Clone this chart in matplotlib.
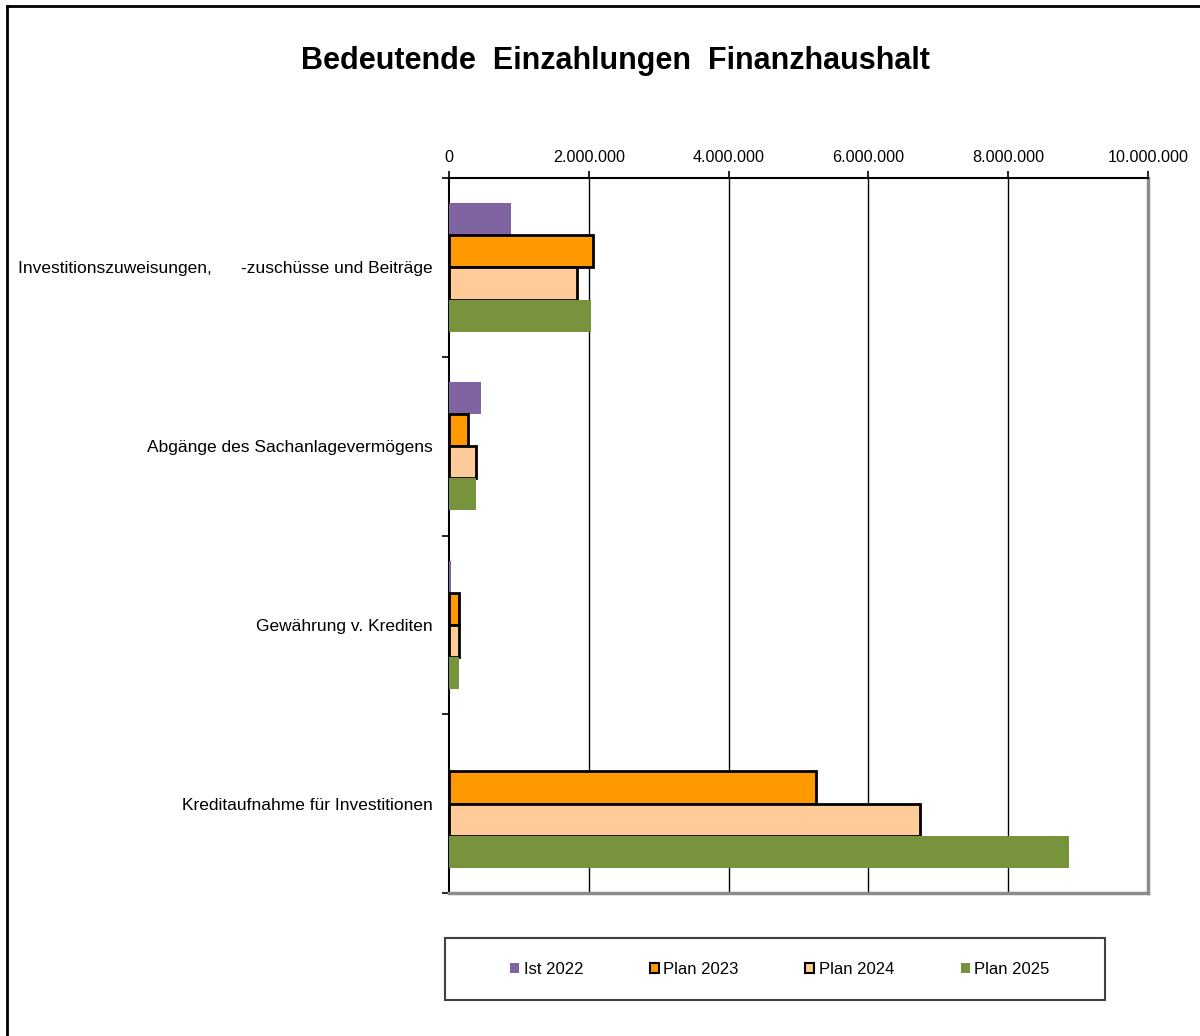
import matplotlib
matplotlib.use("Agg")
import matplotlib.pyplot as plt
import numpy as np
from matplotlib.lines import Line2D
from matplotlib.patches import Rectangle, Patch
from matplotlib.ticker import FuncFormatter

plt.rcParams["font.family"] = ["Liberation Sans", "DejaVu Sans"]

categories = [
    "Investitionszuweisungen,      -zuschüsse und Beiträge",
    "Abgänge des Sachanlagevermögens",
    "Gewährung v. Krediten",
    "Kreditaufnahme für Investitionen",
]
series_names = ["Ist 2022", "Plan 2023", "Plan 2024", "Plan 2025"]
ist_2022 = [890000, 460000, 30000, 0]
plan_2023 = [2060000, 270000, 140000, 5250000]
plan_2024 = [1830000, 390000, 140000, 6740000]
plan_2025 = [2030000, 380000, 140000, 8870000]
x_ticks = [0, 2000000, 4000000, 6000000, 8000000, 10000000]

colors = ["#8064A2", "#FF9900", "#FFCC99", "#77933C"]
edges = [None, "black", "black", None]

W, H = 1200, 1036
fig = plt.figure(figsize=(W / 100, H / 100), dpi=100)
ax = fig.add_axes([449 / W, 1 - 893 / H, (1148 - 449) / W, (893 - 178) / H])

y = np.arange(len(categories))
bar_h = 0.18
offsets = [-0.27, -0.09, 0.09, 0.27]
for vals, name, col, ec, off in zip([ist_2022, plan_2023, plan_2024, plan_2025],
                                     series_names, colors, edges, offsets):
    ax.barh(y + off, vals, height=bar_h, color=col,
            edgecolor=ec if ec else col, linewidth=2 if ec else 0, zorder=3)

ax.set_xlim(0, 10000000)
ax.set_ylim(3.5, -0.5)
ax.xaxis.tick_top()
ax.set_xticks(x_ticks)
ax.xaxis.set_major_formatter(FuncFormatter(lambda v, p: f"{int(v):,}".replace(",", ".")))
ax.tick_params(axis="x", which="major", direction="out", length=5, width=1.2,
               labelsize=11.6, pad=4, colors="black")
ax.set_yticks(np.arange(-0.5, 4, 1))
ax.set_yticklabels([])
ax.set_yticks(y, minor=True)
ax.set_yticklabels(categories, minor=True, fontsize=12.5)
ax.tick_params(axis="y", which="minor", length=0, pad=12)
ax.tick_params(axis="y", which="major", direction="out", length=5, width=1.2)

for v in x_ticks[1:-1]:
    ax.axvline(v, color="black", lw=1, zorder=1)

ax.spines["left"].set_color("black")
ax.spines["left"].set_linewidth(1.5)
ax.spines["top"].set_color("black")
ax.spines["top"].set_linewidth(1.5)
ax.spines["right"].set_color("#8c8c8c")
ax.spines["right"].set_linewidth(2.5)
ax.spines["bottom"].set_color("#8c8c8c")
ax.spines["bottom"].set_linewidth(2.5)

fig.text(615 / W, 1 - 61 / H, "Bedeutende  Einzahlungen  Finanzhaushalt",
         ha="center", va="center", fontsize=22, fontweight="bold")

# legend box
lx0, ly0, lx1, ly1 = 445, 938, 1105, 1000
fig.add_artist(Rectangle((lx0 / W, 1 - ly1 / H), (lx1 - lx0) / W, (ly1 - ly0) / H,
                         transform=fig.transFigure, fill=False,
                         edgecolor="#404040", lw=1.5))
handles = [Patch(facecolor=c, edgecolor=(e if e else c), linewidth=1.5 if e else 0)
           for c, e in zip(colors, edges)]
fig.legend(handles, series_names, loc="center",
           bbox_to_anchor=((lx0 + lx1) / 2 / W + 0.004, 1 - (ly0 + ly1) / 2 / H),
           ncol=4, frameon=False, fontsize=12, handlelength=0.55, handleheight=0.55,
           handletextpad=0.25, columnspacing=4.0)

# outer chart border (left and top only visible)
fig.add_artist(Line2D([7 / W, 7 / W], [0, 1 - 6 / H], transform=fig.transFigure,
                      color="black", lw=2))
fig.add_artist(Line2D([7 / W, 1], [1 - 6 / H, 1 - 6 / H], transform=fig.transFigure,
                      color="black", lw=2))

fig.savefig("out.png", dpi=100)
